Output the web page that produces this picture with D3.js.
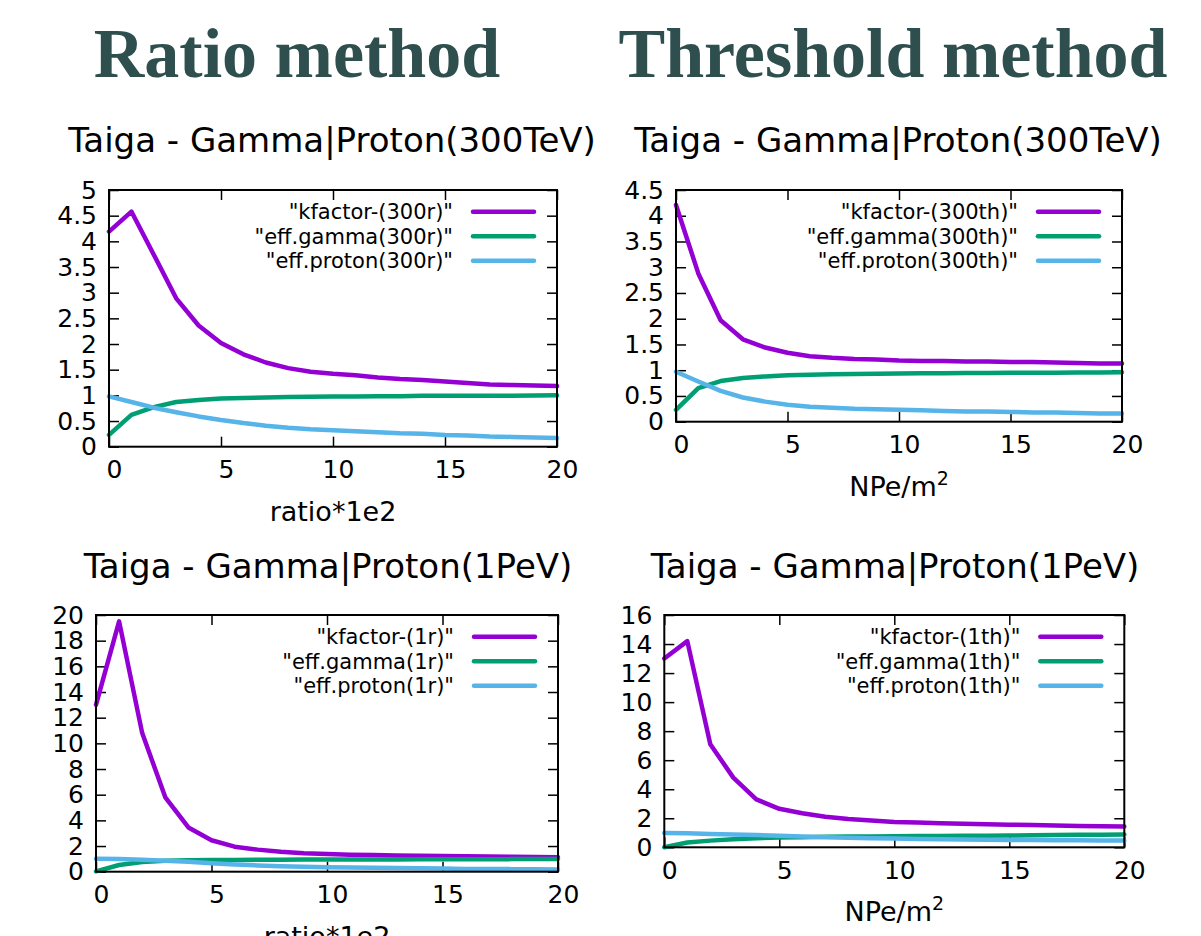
<!DOCTYPE html>
<html>
<head>
<meta charset="utf-8">
<script src="https://cdn.jsdelivr.net/npm/d3@7"></script>
<style>
  body { margin: 0; background: #fff; }
  svg { display: block; }
</style>
</head>
<body>
<div id="chart"></div>
<script>
// x values shared by all four plots
const steps = [0,1,2,3,4,5,6,7,8,9,10,11,12,13,14,15,16,17,18,19,20];

// Ratio method, 300 TeV
const kfactor300r = [4.19,4.58,3.74,2.89,2.36,2.02,1.80,1.64,1.53,1.46,1.42,1.39,1.35,1.32,1.30,1.27,1.24,1.21,1.20,1.19,1.18];
const gamma300r   = [0.23,0.62,0.77,0.87,0.91,0.94,0.95,0.96,0.97,0.975,0.98,0.98,0.985,0.985,0.99,0.99,0.99,0.99,0.99,0.995,1.0];
const proton300r  = [0.98,0.87,0.76,0.67,0.59,0.52,0.46,0.41,0.37,0.34,0.32,0.30,0.28,0.26,0.25,0.23,0.22,0.20,0.19,0.18,0.17];

// Threshold method, 300 TeV
const kfactor300th = [4.21,2.88,1.97,1.60,1.44,1.34,1.27,1.24,1.22,1.21,1.19,1.18,1.18,1.17,1.17,1.16,1.16,1.15,1.14,1.13,1.13];
const gamma300th   = [0.23,0.65,0.79,0.85,0.88,0.90,0.91,0.92,0.925,0.93,0.935,0.94,0.94,0.945,0.945,0.95,0.95,0.95,0.955,0.955,0.96];
const proton300th  = [0.97,0.78,0.60,0.47,0.39,0.33,0.29,0.27,0.25,0.24,0.23,0.22,0.21,0.20,0.20,0.19,0.18,0.18,0.17,0.16,0.16];

// Ratio method, 1 PeV
const kfactor1r = [13.0,19.5,10.8,5.8,3.45,2.45,1.95,1.72,1.55,1.43,1.37,1.33,1.30,1.27,1.25,1.22,1.20,1.18,1.16,1.14,1.12];
const gamma1r   = [0.03,0.52,0.75,0.85,0.89,0.91,0.92,0.93,0.94,0.95,0.95,0.96,0.96,0.96,0.97,0.97,0.97,0.97,0.98,0.98,0.98];
const proton1r  = [1.0,0.98,0.93,0.86,0.77,0.66,0.56,0.49,0.43,0.39,0.35,0.32,0.30,0.28,0.26,0.24,0.22,0.21,0.20,0.19,0.18];

// Threshold method, 1 PeV
const kfactor1th = [13.0,14.2,7.1,4.8,3.3,2.65,2.35,2.1,1.95,1.85,1.75,1.70,1.66,1.62,1.58,1.56,1.53,1.50,1.47,1.45,1.43];
const gamma1th   = [0.0,0.33,0.46,0.56,0.63,0.67,0.70,0.72,0.74,0.75,0.76,0.77,0.78,0.79,0.80,0.81,0.83,0.84,0.86,0.87,0.89];
const proton1th  = [0.99,0.96,0.92,0.88,0.84,0.79,0.74,0.70,0.66,0.63,0.60,0.58,0.56,0.54,0.52,0.51,0.50,0.49,0.48,0.47,0.46];

// tick labels
const xTicks = [0,5,10,15,20];
const yTicks300r  = [0,0.5,1,1.5,2,2.5,3,3.5,4,4.5,5];
const yTicks300th = [0,0.5,1,1.5,2,2.5,3,3.5,4,4.5];
const yTicks1r    = [0,2,4,6,8,10,12,14,16,18,20];
const yTicks1th   = [0,2,4,6,8,10,12,14,16];

const legend300r  = ['"kfactor-(300r)"', '"eff.gamma(300r)"', '"eff.proton(300r)"'];
const legend300th = ['"kfactor-(300th)"', '"eff.gamma(300th)"', '"eff.proton(300th)"'];
const legend1r    = ['"kfactor-(1r)"', '"eff.gamma(1r)"', '"eff.proton(1r)"'];
const legend1th   = ['"kfactor-(1th)"', '"eff.gamma(1th)"', '"eff.proton(1th)"'];

const headers = ["Ratio method", "Threshold method"];
const titles = ["Taiga - Gamma|Proton(300TeV)", "Taiga - Gamma|Proton(1PeV)"];

const colors = ["#9400d3", "#009e73", "#56b4e9"];
const gpFont = "'DejaVu Sans', sans-serif";

const width = 1201, height = 936;

const svg = d3.select("#chart")
  .append("svg")
    .attr("width", width)
    .attr("height", height);

// method headings
svg.selectAll("text.header")
  .data(headers)
  .join("text")
    .attr("class", "header")
    .attr("x", (d, i) => [297, 893][i])
    .attr("y", 77)
    .attr("text-anchor", "middle")
    .attr("font-family", "'Liberation Serif', serif")
    .attr("font-weight", "bold")
    .attr("font-size", 70)
    .attr("fill", "#2f4f4f")
    .text(d => d);

const panels = [
  { left: 109, right: 557, top: 190, bottom: 446.7, yMax: 5, yTicks: yTicks300r,
    series: [kfactor300r, gamma300r, proton300r], legend: legend300r,
    title: titles[0], titleX: 332, titleY: 152, xlabel: "ratio*1e2" },
  { left: 676, right: 1122, top: 190, bottom: 421.7, yMax: 4.5, yTicks: yTicks300th,
    series: [kfactor300th, gamma300th, proton300th], legend: legend300th,
    title: titles[0], titleX: 898, titleY: 152, xlabel: "NPe/m" },
  { left: 96, right: 558, top: 615, bottom: 871.7, yMax: 20, yTicks: yTicks1r,
    series: [kfactor1r, gamma1r, proton1r], legend: legend1r,
    title: titles[1], titleX: 328, titleY: 578, xlabel: "ratio*1e2" },
  { left: 664.3, right: 1124.3, top: 615, bottom: 847.3, yMax: 16, yTicks: yTicks1th,
    series: [kfactor1th, gamma1th, proton1th], legend: legend1th,
    title: titles[1], titleX: 895, titleY: 578, xlabel: "NPe/m" }
];

function drawPanel(p) {
  const g = svg.append("g");

  const x = d3.scaleLinear().domain([0, 20]).range([p.left, p.right]);
  const y = d3.scaleLinear().domain([0, p.yMax]).range([p.bottom, p.top]);

  // plot title
  g.append("text")
    .attr("x", p.titleX)
    .attr("y", p.titleY)
    .attr("text-anchor", "middle")
    .attr("font-family", gpFont)
    .attr("font-size", 34)
    .attr("fill", "#000")
    .text(p.title);

  // axes, ticks pointing inward on every side (gnuplot mirror style)
  const fmt = d3.format("~g");
  const bottomAxis = g.append("g")
    .attr("transform", `translate(0,${p.bottom})`)
    .call(d3.axisBottom(x).tickValues(xTicks).tickFormat(fmt).tickSizeInner(-10).tickSizeOuter(0).tickPadding(14));
  bottomAxis.selectAll("text").attr("dx", 5);

  g.append("g")
    .attr("transform", `translate(${p.left},0)`)
    .call(d3.axisLeft(y).tickValues(p.yTicks).tickFormat(fmt).tickSizeInner(-10).tickSizeOuter(0).tickPadding(12));

  g.append("g")
    .attr("transform", `translate(0,${p.top})`)
    .call(d3.axisTop(x).tickValues(xTicks).tickFormat("").tickSizeInner(-10).tickSizeOuter(0));

  g.append("g")
    .attr("transform", `translate(${p.right},0)`)
    .call(d3.axisRight(y).tickValues(p.yTicks).tickFormat("").tickSizeInner(-10).tickSizeOuter(0));

  g.selectAll(".domain").remove();
  g.selectAll(".tick line").attr("stroke", "#000").attr("stroke-width", 1.5);
  g.selectAll(".tick text")
    .attr("font-family", gpFont)
    .attr("font-size", 25)
    .attr("fill", "#000");

  // x-axis label
  const xl = g.append("text")
    .attr("x", (p.left + p.right) / 2)
    .attr("y", p.bottom + 74)
    .attr("text-anchor", "middle")
    .attr("font-family", gpFont)
    .attr("font-size", 27)
    .attr("fill", "#000")
    .text(p.xlabel);
  if (p.xlabel === "NPe/m") {
    xl.append("tspan")
      .attr("font-size", 19)
      .attr("dy", -11)
      .text("2");
  }

  // curves
  const line = d3.line()
    .x((d, i) => x(steps[i]))
    .y(d => y(d));

  g.selectAll("path.curve")
    .data(p.series)
    .join("path")
      .attr("class", "curve")
      .attr("d", line)
      .attr("fill", "none")
      .attr("stroke", (d, i) => colors[i])
      .attr("stroke-width", 4.5)
      .attr("stroke-linejoin", "round")
      .attr("stroke-linecap", "round");

  // frame
  g.append("rect")
    .attr("x", p.left)
    .attr("y", p.top)
    .attr("width", p.right - p.left)
    .attr("height", p.bottom - p.top)
    .attr("fill", "none")
    .attr("stroke", "#000")
    .attr("stroke-width", 2);

  // legend
  const leg = g.selectAll("g.legend")
    .data(p.legend)
    .join("g")
      .attr("class", "legend")
      .attr("transform", (d, i) => `translate(0,${p.top + 21.7 + i * 24.5})`);

  leg.append("text")
    .attr("x", p.right - 104)
    .attr("y", 0)
    .attr("dy", "0.35em")
    .attr("text-anchor", "end")
    .attr("font-family", gpFont)
    .attr("font-size", 21)
    .attr("fill", "#000")
    .text(d => d);

  leg.append("line")
    .attr("x1", p.right - 84)
    .attr("x2", p.right - 23)
    .attr("stroke", (d, i) => colors[i])
    .attr("stroke-width", 4.5)
    .attr("stroke-linecap", "round");
}

panels.forEach(drawPanel);
</script>
</body>
</html>
